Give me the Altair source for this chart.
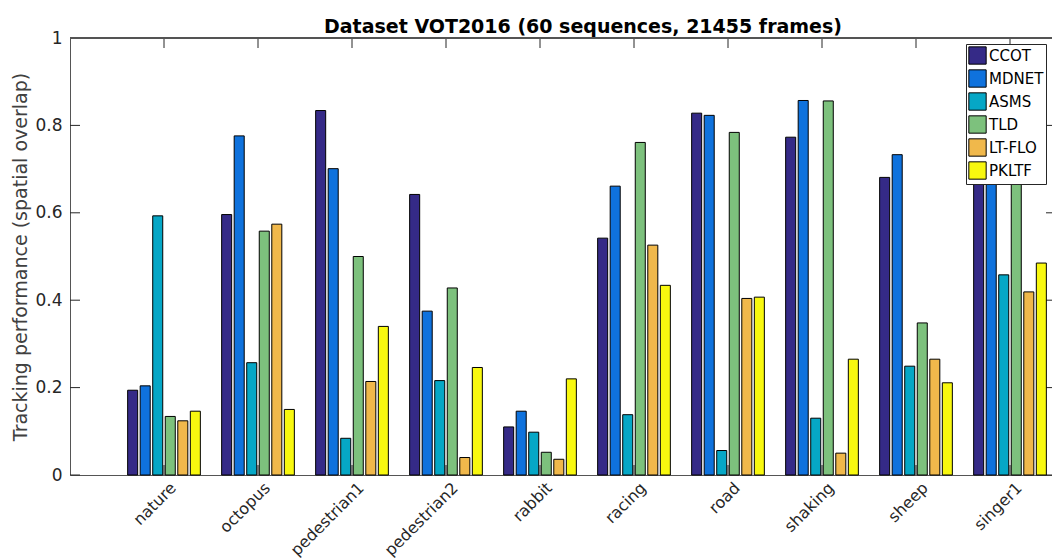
import json

import altair as alt
import pandas as pd

# Sequences (x categories) and trackers (bar series)
sequences = ["nature", "octopus", "pedestrian1", "pedestrian2", "rabbit",
             "racing", "road", "shaking", "sheep", "singer1"]
trackers = ["CCOT", "MDNET", "ASMS", "TLD", "LT-FLO", "PKLTF"]

# Mean spatial overlap per sequence, one list per tracker
ccot = [0.194, 0.596, 0.834, 0.642, 0.110, 0.542, 0.828, 0.773, 0.681, 0.800]
mdnet = [0.204, 0.776, 0.701, 0.375, 0.146, 0.661, 0.823, 0.857, 0.733, 0.790]
asms = [0.593, 0.257, 0.084, 0.216, 0.098, 0.138, 0.056, 0.130, 0.249, 0.458]
tld = [0.134, 0.558, 0.500, 0.428, 0.052, 0.761, 0.784, 0.856, 0.348, 0.780]
ltflo = [0.124, 0.574, 0.214, 0.040, 0.036, 0.526, 0.404, 0.050, 0.265, 0.419]
pkltf = [0.146, 0.150, 0.340, 0.246, 0.220, 0.434, 0.407, 0.265, 0.211, 0.485]
series = [ccot, mdnet, asms, tld, ltflo, pkltf]

y_ticks = [0, 0.2, 0.4, 0.6, 0.8, 1]

colors = ["#352a87", "#0f72dd", "#06a7c6", "#7dc17d", "#f0b84b", "#f8f80f"]

W, H = 982, 437
XMAX = W / 94.0          # one category per 94 px, axis starts at 0
GROUP = 0.8
n = len(trackers)
pitch = GROUP / n
half = pitch * 0.8 / 2

rows = []
for si, seq in enumerate(sequences):
    for ti, (name, vals) in enumerate(zip(trackers, series)):
        rows.append(dict(sequence=seq, tracker=name, value=vals[si],
                         pos=si + 1, slot=ti))
df = pd.DataFrame(rows)

xscale = alt.Scale(domain=[0, XMAX], nice=False, zero=False)
yscale = alt.Scale(domain=[0, 1], nice=False)
FONT = "DejaVu Sans"
INK = "#262626"

label_expr = json.dumps(sequences) + "[datum.value - 1]"

x_axis = alt.Axis(values=list(range(1, len(sequences) + 1)),
                  labelExpr=label_expr, title=None, ticks=False,
                  grid=False, domainColor="#555555",
                  labelAngle=-45, labelAlign="right",
                  labelBaseline="middle", labelPadding=10,
                  labelOffset=9, labelFont=FONT, labelFontSize=16,
                  labelColor=INK)
y_axis = alt.Axis(values=y_ticks, format="~g", ticks=False, grid=False,
                  domainColor="#555555", labelPadding=8,
                  labelFont=FONT, labelFontSize=17, labelColor=INK,
                  title="Tracking performance (spatial overlap)",
                  titleFont=FONT, titleFontSize=19,
                  titleFontWeight="normal", titleColor="#404040",
                  titlePadding=4)

bars = alt.Chart(df).transform_calculate(
    center=f"datum.pos + (datum.slot - {(n - 1) / 2}) * {pitch}",
).transform_calculate(
    x0=f"datum.center - {half}",
    x1=f"datum.center + {half}",
).mark_bar(stroke="black", strokeWidth=1).encode(
    x=alt.X("x0:Q", scale=xscale, axis=x_axis),
    x2="x1:Q",
    y=alt.Y("value:Q", scale=yscale, axis=y_axis),
    y2=alt.datum(0),
    color=alt.Color("tracker:N", sort=trackers,
                    scale=alt.Scale(domain=trackers, range=colors),
                    legend=alt.Legend(title=None, orient="none",
                                      legendX=896, legendY=6,
                                      symbolType="square", symbolSize=300,
                                      symbolStrokeColor="black",
                                      symbolStrokeWidth=1, symbolOpacity=1,
                                      labelFont=FONT, labelFontSize=15,
                                      labelColor="black", labelOffset=2,
                                      rowPadding=0, padding=2,
                                      strokeColor=INK, fillColor="white")),
)

cat_df = pd.DataFrame({"pos": list(range(1, len(sequences) + 1))})
ytick_df = pd.DataFrame({"v": y_ticks})

bottom_ticks = alt.Chart(cat_df).mark_rule(color=INK, strokeWidth=1).encode(
    x=alt.X("pos:Q", scale=xscale, axis=x_axis),
    y=alt.value(H), y2=alt.value(H - 10))
top_ticks = alt.Chart(cat_df).mark_rule(color=INK, strokeWidth=1).encode(
    x=alt.X("pos:Q", scale=xscale, axis=x_axis),
    y=alt.value(0), y2=alt.value(10))
left_ticks = alt.Chart(ytick_df).mark_rule(color=INK, strokeWidth=1).encode(
    y=alt.Y("v:Q", scale=yscale, axis=y_axis),
    x=alt.value(0), x2=alt.value(10))
right_ticks = alt.Chart(ytick_df).mark_rule(color=INK, strokeWidth=1).encode(
    y=alt.Y("v:Q", scale=yscale, axis=y_axis),
    x=alt.value(W - 6), x2=alt.value(W))
top_line = alt.Chart(cat_df).mark_rule(color="#555555", strokeWidth=1).encode(
    x=alt.value(0), x2=alt.value(W), y=alt.value(0))

chart = alt.layer(
    bottom_ticks, top_ticks, left_ticks, right_ticks, top_line, bars
).properties(
    width=W, height=H,
    title=alt.TitleParams("Dataset VOT2016 (60 sequences, 21455 frames)",
                          font=FONT, fontSize=19, fontWeight="bold",
                          color="black", anchor="middle", dx=22, offset=-8),
    autosize=alt.AutoSizeParams(type="none"),
    padding={"left": 70, "top": 38, "right": 0, "bottom": 83},
).configure_view(stroke=None)

chart.save("out.html", embed_options={"renderer": "svg", "actions": False})
